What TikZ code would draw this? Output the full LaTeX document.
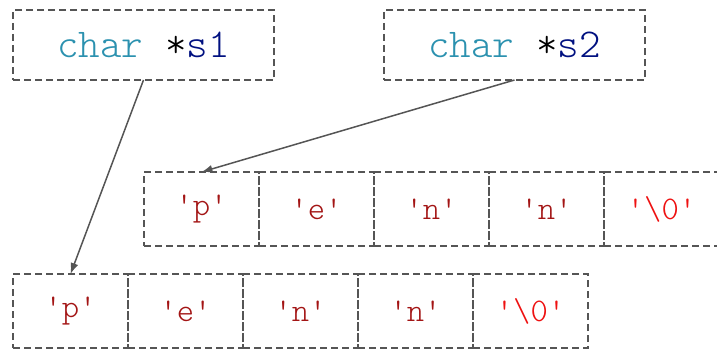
\documentclass[tikz,border=0pt]{standalone}
\usepackage{fontspec}
\usepackage{xcolor}
\usetikzlibrary{chains,arrows.meta,positioning}
\definecolor{vs type}{HTML}{2B91AF}
\definecolor{vs ident}{HTML}{001080}
\definecolor{vs string}{HTML}{A31515}
\definecolor{vs escape}{HTML}{EE1111}
\definecolor{vs line}{HTML}{555555}
\newcommand{\ctype}[1]{\textcolor{vs type}{#1}}
\newcommand{\cident}[1]{\textcolor{vs ident}{#1}}
\newcommand{\cchar}[1]{\textquotesingle#1\textquotesingle}
\tikzset{
  mem pointer/.style={
    rectangle,
    minimum width=261pt,
    minimum height=70pt,
    draw=vs line,
    dash pattern=on 7pt off 4pt,
    line width=1.8pt,
    font=\ttfamily\fontseries{l}\fontsize{41}{44}\selectfont,
    inner sep=0pt,
    outer sep=0pt,
  },
  mem cell/.style={
    rectangle,
    minimum width=115pt,
    minimum height=74pt,
    draw=vs line,
    dash pattern=on 7pt off 4pt,
    line width=1.8pt,
    text=vs string,
    font=\ttfamily\fontseries{l}\fontsize{33}{36}\selectfont,
    inner sep=0pt,
    outer sep=0pt,
  },
  mem arrow/.style={-{Latex[length=11pt,width=8pt]}, line width=1.5pt, draw=vs line, fill=vs line},
}

\begin{document}
\begin{tikzpicture}[x=1pt, y=1pt, node distance=0pt]
  \useasboundingbox (0,0) rectangle (717,349);

  \node[mem pointer] (s1) at (143.5,304) {\ctype{char} *\cident{s1}};
  \node[mem pointer] (s2) at (514.5,304) {\ctype{char} *\cident{s2}};

  % array that s2 points to
  \begin{scope}[start chain=upper going right]
    \node[mem cell,on chain] (u1) at (201.5,140) {\cchar{p}};
    \node[mem cell,on chain] (u2) {\cchar{e}};
    \node[mem cell,on chain] (u3) {\cchar{n}};
    \node[mem cell,on chain] (u4) {\cchar{n}};
    \node[mem cell,on chain,text=vs escape] (u5) {\cchar{\textbackslash 0}};
  \end{scope}

  % array that s1 points to
  \begin{scope}[start chain=lower going right]
    \node[mem cell,on chain] (l1) at (70.5,38) {\cchar{p}};
    \node[mem cell,on chain] (l2) {\cchar{e}};
    \node[mem cell,on chain] (l3) {\cchar{n}};
    \node[mem cell,on chain] (l4) {\cchar{n}};
    \node[mem cell,on chain,text=vs escape] (l5) {\cchar{\textbackslash 0}};
  \end{scope}

  \draw[mem arrow] (s1.south) -- (l1.north);
  \draw[mem arrow] (s2.south) -- (u1.north);
\end{tikzpicture}
\end{document}
